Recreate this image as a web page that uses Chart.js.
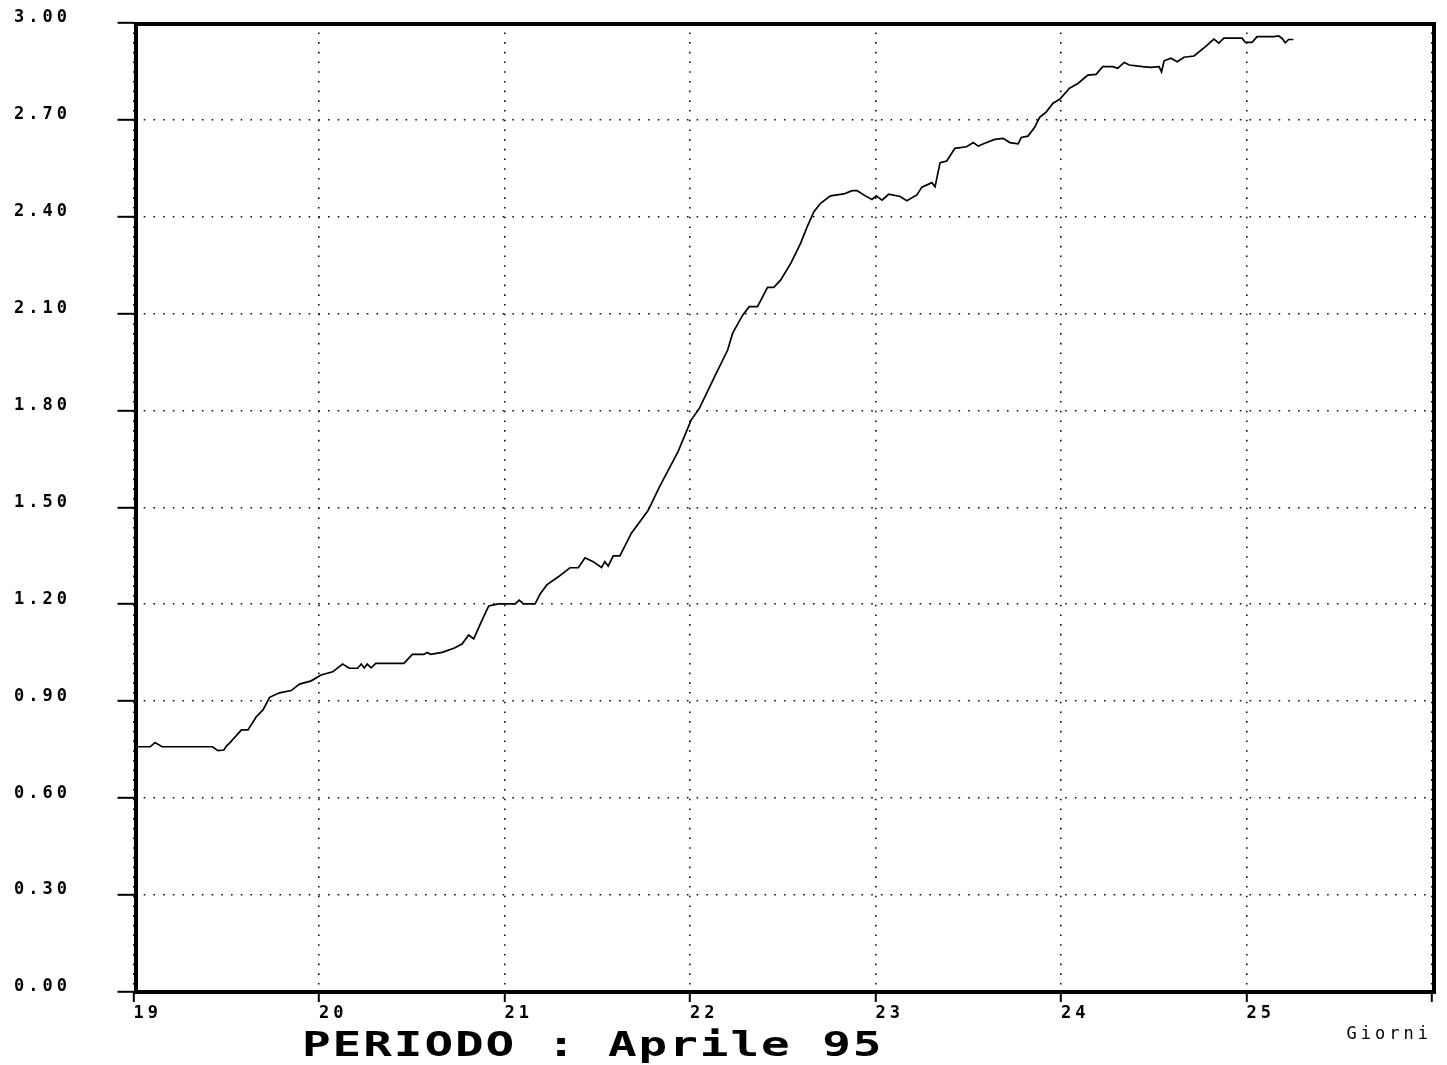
<!DOCTYPE html>
<html><head><meta charset="utf-8">
<script src="https://cdn.jsdelivr.net/npm/chart.js@4/dist/chart.umd.min.js"></script>
<style>html,body{margin:0;padding:0;background:#fff;}#wrap{width:1447px;height:1065px;}</style>
</head><body><div id="wrap"><canvas id="c" width="1447" height="1065"></canvas></div>
<script>
// Days (x) and level values (y)
const days = [19.009,19.090,19.116,19.154,19.426,19.455,19.487,19.501,19.519,19.582,19.617,19.662,19.698,19.734,19.787,19.850,19.895,19.958,20.011,20.074,20.127,20.163,20.208,20.228,20.244,20.260,20.281,20.306,20.458,20.503,20.566,20.583,20.602,20.664,20.727,20.771,20.807,20.834,20.879,20.915,20.968,21.058,21.079,21.103,21.165,21.192,21.228,21.290,21.353,21.398,21.434,21.478,21.523,21.541,21.559,21.586,21.622,21.684,21.774,21.836,21.935,22.006,22.051,22.132,22.203,22.230,22.284,22.319,22.364,22.418,22.452,22.489,22.543,22.596,22.632,22.668,22.704,22.757,22.829,22.874,22.901,22.945,22.981,23.004,23.035,23.071,23.133,23.169,23.223,23.250,23.304,23.321,23.348,23.384,23.428,23.491,23.527,23.554,23.589,23.643,23.688,23.724,23.769,23.786,23.822,23.858,23.885,23.921,23.957,23.993,24.046,24.091,24.145,24.189,24.225,24.279,24.306,24.341,24.368,24.440,24.484,24.529,24.542,24.556,24.592,24.627,24.663,24.717,24.779,24.824,24.851,24.878,24.976,24.994,25.030,25.057,25.146,25.173,25.191,25.209,25.227,25.253];
const values = [0.759,0.759,0.772,0.759,0.759,0.747,0.749,0.761,0.771,0.811,0.811,0.852,0.873,0.912,0.926,0.933,0.953,0.963,0.981,0.991,1.015,1.002,1.002,1.015,1.003,1.015,1.003,1.017,1.017,1.045,1.045,1.051,1.045,1.051,1.064,1.077,1.105,1.093,1.151,1.195,1.201,1.201,1.213,1.201,1.201,1.232,1.260,1.285,1.313,1.313,1.344,1.332,1.314,1.332,1.318,1.350,1.350,1.420,1.490,1.564,1.672,1.770,1.807,1.904,1.987,2.039,2.095,2.121,2.121,2.181,2.181,2.204,2.255,2.317,2.369,2.415,2.441,2.464,2.470,2.480,2.480,2.464,2.453,2.464,2.451,2.469,2.462,2.449,2.467,2.491,2.505,2.492,2.567,2.572,2.611,2.616,2.629,2.618,2.627,2.639,2.642,2.629,2.625,2.645,2.649,2.676,2.707,2.724,2.751,2.763,2.797,2.812,2.838,2.840,2.864,2.864,2.859,2.877,2.869,2.864,2.862,2.864,2.848,2.882,2.890,2.879,2.893,2.897,2.926,2.949,2.937,2.952,2.952,2.939,2.939,2.957,2.957,2.959,2.952,2.938,2.948,2.948];
const xTickValues = [19,20,21,22,23,24,25,26];
const yTickValues = [0,0.3,0.6,0.9,1.2,1.5,1.8,2.1,2.4,2.7,3.0];
const xAxisTitle = 'Giorni';
const periodText = 'PERIODO : Aprile 95';

const points = days.map((d, i) => ({x: d, y: values[i]}));

const stylePlugin = {
  id: 'style',
  beforeDraw(chart) { chart.ctx.letterSpacing = '4px'; },
  afterDraw(chart) {
    const ctx = chart.ctx, a = chart.chartArea;
    ctx.save();
    ctx.letterSpacing = '0px';
    ctx.strokeStyle = '#000';
    ctx.lineWidth = 4;
    ctx.strokeRect(a.left + 2.5, a.top + 1.3, (a.right + 2) - (a.left + 2.5), a.bottom - (a.top + 1.3));
    // period caption (monospaced, ~30.6px per character)
    ctx.font = 'bold 34px "DejaVu Sans Mono"';
    ctx.fillStyle = '#000';
    ctx.textAlign = 'left';
    ctx.textBaseline = 'alphabetic';
    const sx = 1.4;
    const w = ctx.measureText(periodText).width;
    const ls = 30.6 / sx - w / periodText.length;
    ctx.letterSpacing = ls + 'px';
    ctx.translate(302, 1056);
    ctx.scale(sx, 1);
    ctx.fillText(periodText, 0, 0);
    ctx.restore();
  }
};

new Chart(document.getElementById('c'), {
  type: 'line',
  data: { datasets: [{ data: points, borderColor: '#000', borderWidth: 1.7, pointRadius: 0, tension: 0, fill: false }] },
  options: {
    responsive: false,
    animation: false,
    events: [],
    layout: { padding: { left: 14, top: 22.7, right: 15, bottom: 0 } },
    plugins: { legend: { display: false }, tooltip: { enabled: false }, title: { display: false } },
    scales: {
      x: {
        type: 'linear', min: 19, max: 26,
        afterBuildTicks: s => { s.ticks = xTickValues.map(v => ({value: v})); },
        afterFit: s => { s.height = 73; },
        ticks: {
          align: 'start', padding: 1, maxRotation: 0, autoSkip: false,
          color: '#000', font: { family: '"DejaVu Sans Mono"', size: 17, weight: 'bold' },
          callback: v => v === 26 ? '' : String(v)
        },
        grid: { color: '#111', lineWidth: 1.6, tickLength: 10, tickWidth: 2, tickColor: '#000', tickBorderDash: [] },
        border: { display: false, dash: [1.6, 8.1] },
        title: { display: true, text: xAxisTitle, align: 'end', color: '#000',
                 font: { family: '"DejaVu Sans Mono"', size: 17, weight: 'normal' },
                 padding: { top: 0, bottom: 20 } }
      },
      y: {
        type: 'linear', min: 0, max: 3,
        afterBuildTicks: s => { s.ticks = yTickValues.map(v => ({value: v})); },
        afterFit: s => { s.width = 119.5; },
        ticks: {
          crossAlign: 'far', labelOffset: -5, autoSkip: false,
          color: '#000', font: { family: '"DejaVu Sans Mono"', size: 17, weight: 'bold' },
          callback: v => Number(v).toFixed(2)
        },
        grid: { color: '#111', lineWidth: 1.6, tickLength: 16, tickWidth: 2, tickColor: '#000', tickBorderDash: [] },
        border: { display: false, dash: [1.6, 8.1] }
      }
    }
  },
  plugins: [stylePlugin]
});
</script>
</body></html>
